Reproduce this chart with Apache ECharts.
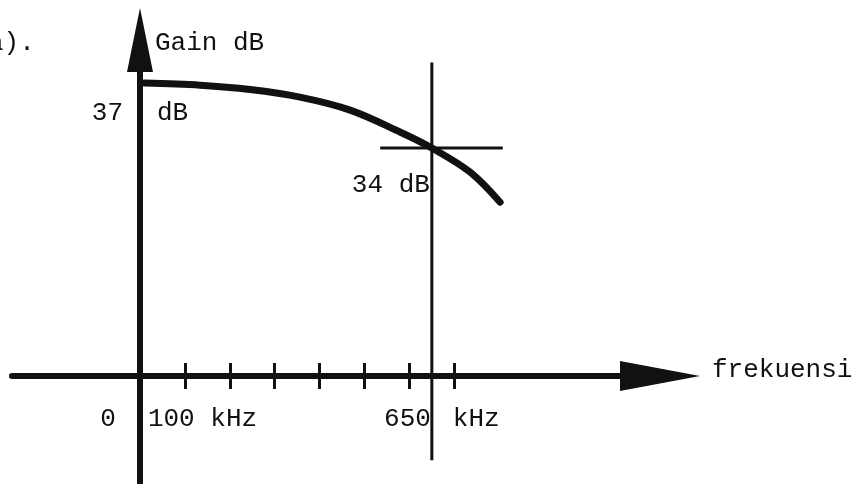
<!DOCTYPE html>
<html><head><meta charset="utf-8">
<script src="https://cdn.jsdelivr.net/npm/echarts@6/dist/echarts.min.js"></script>
<style>html,body{margin:0;padding:0;background:#fff}#c{width:860px;height:484px}</style>
</head><body><div id="c"></div>
<script>
// ---- data (kHz, dB) ----
const curveFreq = [10, 134, 245, 356, 468, 579, 650, 735, 802];
const curveGain = [37.0, 36.9, 36.7, 36.35, 35.75, 34.74, 34.0, 32.89, 31.5];
const xTicks = [100, 200, 300, 400, 500, 600, 700];
const markFreq = 650;     // kHz
const markGain = 34;      // dB
const refGain = 37;       // dB
const axisCrossGain = 23.5; // dB level where the frequency axis is drawn
const yTitle = 'Gain dB';
const xTitle = 'frekuensi';
const figLabel = 'a).';

const FONT = 'Liberation Mono';
const INK = '#111';

const chart = echarts.init(document.getElementById('c'), null, {renderer: 'canvas'});

function lbl(x, y, text, align, offset) {
  return {
    value: [x, y],
    label: {show: true, formatter: text, position: 'inside', align: align,
            verticalAlign: 'middle', offset: offset,
            fontFamily: FONT, fontSize: 26, color: INK,
            textBorderWidth: 0, textBorderColor: 'transparent', opacity: 1}
  };
}

const labelData = [
  lbl(0, axisCrossGain, '0', 'center', [-32, 43]),
  lbl(100, axisCrossGain, '100 kHz', 'left', [-37, 43]),
  lbl(markFreq, axisCrossGain, String(markFreq), 'right', [-1, 43]),
  lbl(markFreq, axisCrossGain, 'kHz', 'left', [21, 43]),
  lbl(0, refGain, String(refGain), 'right', [-17, 30]),
  lbl(0, refGain, 'dB', 'left', [17, 30]),
  lbl(markFreq, markGain, markGain + ' dB', 'right', [-2, 37])
];

const option = {
  backgroundColor: '#fff',
  animation: false,
  grid: [
    {left: 0, right: 0, top: 0, bottom: 0},      // data
    {left: 12, right: 200, top: 0, bottom: 108},  // frequency axis
    {left: 0, right: 0, top: 40, bottom: 0}       // gain axis
  ],
  xAxis: [
    {gridIndex: 0, type: 'value', min: -311.8, max: 1603.6, show: false},
    {gridIndex: 1, type: 'value', min: -285.1, max: 1158.1, position: 'bottom',
     axisLine: {show: true, onZero: false, symbol: ['none', 'triangle'], symbolSize: [30, 80],
                lineStyle: {color: INK, width: 6, cap: 'round'}},
     axisTick: {show: true, inside: false, length: 13, customValues: xTicks,
                lineStyle: {color: INK, width: 3}},
     axisLabel: {show: false}, splitLine: {show: false}},
    {gridIndex: 1, type: 'value', min: -285.1, max: 1158.1, position: 'bottom',
     axisLine: {show: false, onZero: false},
     axisTick: {show: true, inside: true, length: 13, customValues: xTicks,
                lineStyle: {color: INK, width: 3}},
     axisLabel: {show: false}, splitLine: {show: false}},
    {gridIndex: 2, type: 'value', min: -311.8, max: 1603.6, show: false}
  ],
  yAxis: [
    {gridIndex: 0, type: 'value', min: 18.5, max: 40.83, show: false},
    {gridIndex: 1, type: 'value', min: 0, max: 1, show: false},
    {gridIndex: 2, type: 'value', min: 0, max: 1, position: 'left',
     axisLine: {show: true, onZero: true, symbol: ['none', 'triangle'], symbolSize: [26, 64],
                lineStyle: {color: INK, width: 6}},
     axisTick: {show: false}, axisLabel: {show: false}, splitLine: {show: false}}
  ],
  graphic: [
    {type: 'text', left: 155, top: 30, style: {text: yTitle, font: '26px "' + FONT + '"', fill: INK}},
    {type: 'text', left: 712, top: 357, style: {text: xTitle, font: '26px "' + FONT + '"', fill: INK}},
    {type: 'text', left: -12, top: 30, style: {text: figLabel, font: '26px "' + FONT + '"', fill: INK}}
  ],
  series: [
    {type: 'line', xAxisIndex: 0, yAxisIndex: 0, smooth: 0.35, symbol: 'none', clip: false,
     data: curveFreq.map((f, i) => [f, curveGain[i]]),
     lineStyle: {color: INK, width: 7, cap: 'round', join: 'round'}},
    {type: 'line', xAxisIndex: 0, yAxisIndex: 0, symbol: 'none', clip: false,
     data: [[markFreq, 37.95], [markFreq, 19.6]],
     lineStyle: {color: INK, width: 3}},
    {type: 'line', xAxisIndex: 0, yAxisIndex: 0, symbol: 'none', clip: false,
     data: [[535, markGain], [808, markGain]],
     lineStyle: {color: INK, width: 3}},
    {type: 'scatter', xAxisIndex: 0, yAxisIndex: 0, symbolSize: 1, clip: false,
     itemStyle: {color: 'rgba(0,0,0,0)'}, data: labelData, silent: true}
  ]
};
chart.setOption(option);
</script>
</body></html>
